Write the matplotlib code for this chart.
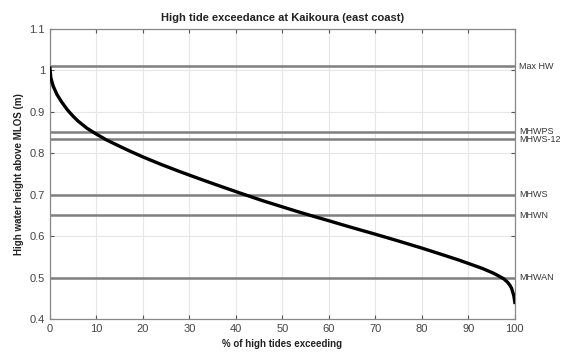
import matplotlib
matplotlib.use("Agg")
import matplotlib.pyplot as plt

plt.rcParams['font.family'] = ['Liberation Sans', 'DejaVu Sans']

# exceedance curve
pct = [0, 0.2, 0.7, 1.5, 2.5, 3.8, 5, 6.1, 8, 9.7, 12, 14, 17, 20, 24, 28, 32, 36, 40,
       42.3, 46, 50, 53, 56.6, 60, 63, 66.7, 70, 75, 80, 85, 88, 91, 93, 95.3, 96.5,
       97.6, 98.4, 98.9, 99.3, 99.6, 99.8, 100]
height = [1.005, 0.982, 0.962, 0.942, 0.924, 0.904, 0.889, 0.877, 0.860, 0.848, 0.833,
          0.822, 0.806, 0.791, 0.7725, 0.7553, 0.7389, 0.7229, 0.7073,
          0.6985, 0.6845, 0.6705, 0.660, 0.648, 0.637, 0.627, 0.615, 0.6045, 0.588, 0.571,
          0.553, 0.542, 0.530, 0.522, 0.511, 0.504,
          0.497, 0.489, 0.482, 0.474, 0.463, 0.455, 0.44]

levels = [1.01, 0.85, 0.835, 0.70, 0.65, 0.50]
level_names = ['Max HW', 'MHWPS', 'MHWS-12', 'MHWS', 'MHWN', 'MHWAN']
label_y = [1.01, 0.853, 0.832, 0.70, 0.65, 0.50]

fig = plt.figure(figsize=(5.67, 3.56), dpi=100)
ax = fig.add_axes([0.088, 0.104, 0.82, 0.815])

for lv in levels:
    ax.axhline(lv, color='#7f7f7f', lw=1.8, zorder=2)
ax.plot(pct, height, color='black', lw=2.4, zorder=3, solid_joinstyle='round')

for name, yy in zip(level_names, label_y):
    ax.text(101, yy, name, fontsize=6.5, va='center', ha='left', color='#333333')

ax.set_xlim(0, 100)
ax.set_ylim(0.4, 1.1)
ax.set_xticks(range(0, 101, 10))
ax.set_yticks([0.4, 0.5, 0.6, 0.7, 0.8, 0.9, 1.0, 1.1])
ax.set_yticklabels(['0.4', '0.5', '0.6', '0.7', '0.8', '0.9', '1', '1.1'])
ax.grid(True, color='#e6e6e6', lw=0.8, zorder=0)
ax.tick_params(direction='in', top=True, right=True, labelsize=8, colors='#555555',
               length=3, width=0.8)
ax.tick_params(labelcolor='#444444')
for s in ax.spines.values():
    s.set_color('#888888')
    s.set_linewidth(0.9)

ax.set_xlabel('% of high tides exceeding', fontsize=7, fontweight='bold', color='#222222')
ax.set_ylabel('High water height above MLOS (m)', fontsize=7, fontweight='bold', color='#222222')
ax.set_title('High tide exceedance at Kaikoura (east coast)', fontsize=8, fontweight='bold',
             color='#222222', pad=6)

fig.savefig('out.png', dpi=100)
